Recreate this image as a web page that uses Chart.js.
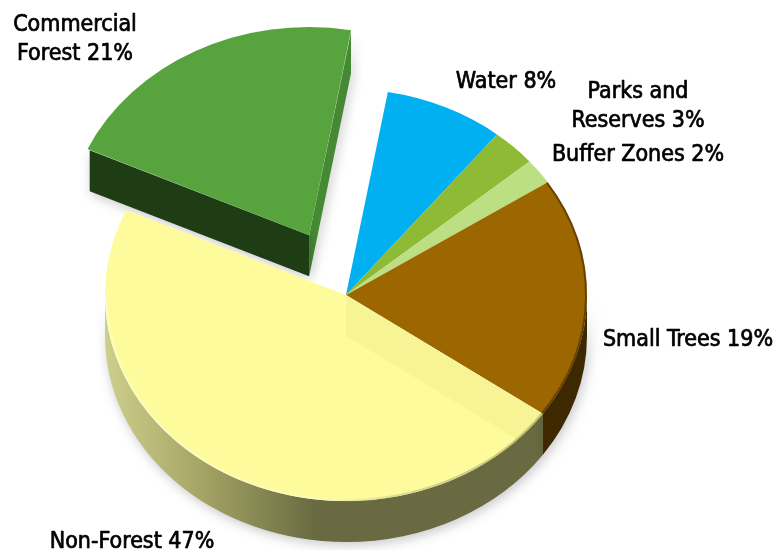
<!DOCTYPE html>
<html>
<head>
<meta charset="utf-8">
<title>Land cover</title>
<script src="https://cdn.jsdelivr.net/npm/chart.js@4"></script>
<style>
    html, body { margin: 0; padding: 0; background: #fff; }
    canvas { display: block; }
</style>
</head>
<body>
<canvas id="pieChart" width="781" height="550"></canvas>
<script>
// clockwise from the top of the pie
const categories = ["Water", "Parks and Reserves", "Buffer Zones", "Small Trees", "Non-Forest", "Commercial Forest"];
const shares = [8, 3, 2, 19, 47, 21];
const topColors = ["#00b0f0", "#8fba35", "#bbdf82", "#9c6700", "#fdfb9b", "#57a33d"];

const labelLines = [["Water 8%"], ["Parks and", "Reserves 3%"], ["Buffer Zones 2%"], ["Small Trees 19%"], ["Non-Forest 47%"], ["Commercial", "Forest 21%"]];
const labelCenters = [[506, 82], [638, 92], [638, 155], [688, 340], [132, 542], [75, 25]];

const explodedSlice = 5;
const tilt = 0.855;
const depth = 41;
const lineHeight = 29;

function sliceGeometry(arc) {
    const p = arc.getProps(["x", "y", "startAngle", "endAngle", "outerRadius"], true);
    const mid = (p.startAngle + p.endAngle) / 2;
    const shift = (arc.options.offset || 0) / 4;
    return {
        x: p.x + Math.cos(mid) * shift,
        y: p.y + Math.sin(mid) * shift * tilt,
        r: p.outerRadius,
        start: p.startAngle,
        end: p.endAngle
    };
}

function edgePoint(g, angle) {
    return [g.x + Math.cos(angle) * g.r, g.y + Math.sin(angle) * g.r * tilt];
}

// flat side wall running from the apex of a slice to its rim
function cutWall(ctx, g, angle, color) {
    const e = edgePoint(g, angle);
    ctx.beginPath();
    ctx.moveTo(g.x, g.y);
    ctx.lineTo(e[0], e[1]);
    ctx.lineTo(e[0], e[1] + depth);
    ctx.lineTo(g.x, g.y + depth);
    ctx.closePath();
    ctx.fillStyle = color;
    ctx.fill();
}

// curved wall below the rim, only the part facing the viewer
function rimWall(ctx, g, from, to, fill) {
    ctx.beginPath();
    ctx.ellipse(g.x, g.y, g.r, g.r * tilt, 0, from, to);
    ctx.ellipse(g.x, g.y + depth, g.r, g.r * tilt, 0, to, from, true);
    ctx.closePath();
    ctx.fillStyle = fill;
    ctx.fill();
}

function rimLine(ctx, g, from, to, color, width) {
    ctx.beginPath();
    ctx.ellipse(g.x, g.y, g.r - width / 2, (g.r - width / 2) * tilt, 0, from, to);
    ctx.strokeStyle = color;
    ctx.lineWidth = width;
    ctx.stroke();
}

const pie3d = {
    id: "pie3d",
    beforeDatasetsDraw(chart) {
        const ctx = chart.ctx;
        const arcs = chart.getDatasetMeta(0).data;
        const forest = sliceGeometry(arcs[5]);
        const open = sliceGeometry(arcs[4]);
        const trees = sliceGeometry(arcs[3]);

        ctx.save();
        ctx.shadowColor = "rgba(0,0,0,0.22)";
        ctx.shadowBlur = 12;
        ctx.shadowOffsetX = 2;
        ctx.shadowOffsetY = 3;

        cutWall(ctx, forest, forest.end, "#458a33");
        cutWall(ctx, forest, forest.start, "#1f3d14");

        const side = ctx.createLinearGradient(open.x - open.r, 0, open.x - 30, 0);
        side.addColorStop(0, "#cfcf8c");
        side.addColorStop(0.45, "#a5a566");
        side.addColorStop(1, "#6a6a42");
        rimWall(ctx, open, open.start, Math.PI, side);
        rimWall(ctx, trees, 0, trees.end, "#3d2800");
        ctx.restore();

        // the library only draws round pies, so squash it for the tilt
        const cx = arcs[0].x;
        const cy = arcs[0].y;
        ctx.save();
        ctx.translate(cx, cy);
        ctx.scale(1, tilt);
        ctx.translate(-cx, -cy);
    },
    afterDatasetsDraw(chart) {
        const ctx = chart.ctx;
        ctx.restore();

        const arcs = chart.getDatasetMeta(0).data;
        const open = sliceGeometry(arcs[4]);
        const trees = sliceGeometry(arcs[3]);

        // bevel along the rim, light on the left fading to dark on the right
        const bevel = ctx.createLinearGradient(open.x - open.r, 0, open.x + open.r * 0.8, 0);
        bevel.addColorStop(0, "rgba(255,255,225,0.55)");
        bevel.addColorStop(0.5, "rgba(255,255,225,0.3)");
        bevel.addColorStop(0.75, "rgba(90,90,50,0.25)");
        bevel.addColorStop(1, "rgba(90,90,50,0.35)");
        rimLine(ctx, open, open.start, Math.PI, bevel, 2);
        rimLine(ctx, trees, trees.start, trees.end, "rgba(50,30,0,0.5)", 2);

        // the yellow top is slightly see-through: its own cut wall shows
        cutWall(ctx, open, open.start, "rgba(120,115,30,0.05)");

        ctx.fillStyle = "#000";
        ctx.strokeStyle = "#000";
        ctx.lineWidth = 0.7;
        ctx.lineJoin = "round";
        ctx.font = "23px 'DejaVu Sans Condensed'";
        ctx.textAlign = "center";
        ctx.textBaseline = "middle";
        labelLines.forEach((lines, i) => {
            lines.forEach((line, n) => {
                const y = labelCenters[i][1] + n * lineHeight;
                ctx.fillText(line, labelCenters[i][0], y);
                ctx.strokeText(line, labelCenters[i][0], y);
            });
        });
    }
};

new Chart(document.getElementById("pieChart"), {
    type: "pie",
    data: {
        labels: categories,
        datasets: [{
            data: shares,
            backgroundColor: topColors,
            borderWidth: 0,
            radius: 241,
            clip: false,
            offset: c => (c.dataIndex === explodedSlice ? 316 : 0)
        }]
    },
    options: {
        responsive: false,
        animation: false,
        rotation: 10,
        events: [],
        layout: { padding: { top: 40, right: 89 } },
        plugins: { legend: { display: false }, tooltip: { enabled: false } }
    },
    plugins: [pie3d]
});
</script>
</body>
</html>
